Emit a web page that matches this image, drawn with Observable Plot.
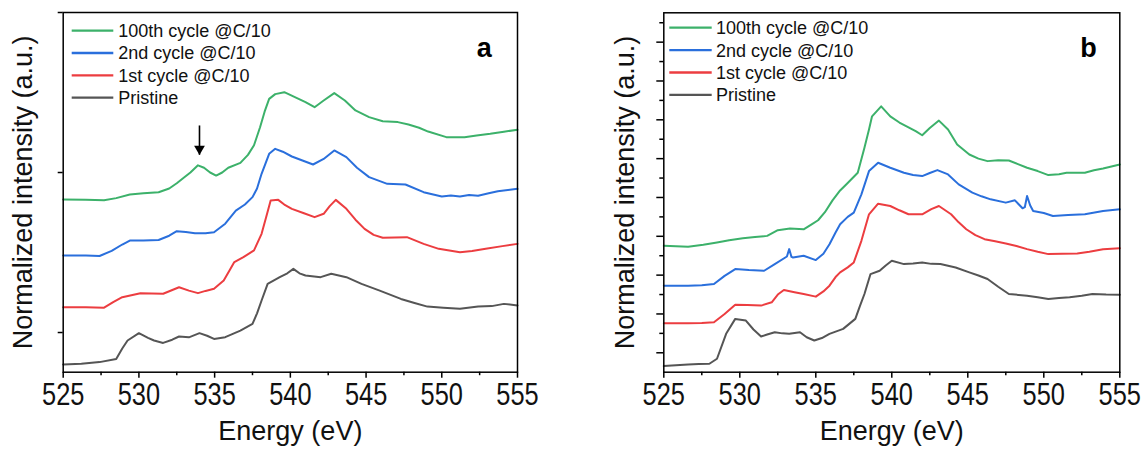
<!DOCTYPE html>
<html><head><meta charset="utf-8">
<script src="https://cdn.jsdelivr.net/npm/d3@7"></script>
<script src="https://cdn.jsdelivr.net/npm/@observablehq/plot@0.6"></script>
<style>
body{margin:0;background:#fff;}
#wrap{position:relative;width:1146px;height:454px;overflow:hidden;font-family:"Liberation Sans",Arial,sans-serif;background:#fff;}
.panel{position:absolute;top:0;}
#legend{position:absolute;left:0;top:0;pointer-events:none;}
</style></head><body><div id="wrap"></div>
<script>
// ---------- data ----------
const seriesNames = ["100th cycle @C/10", "2nd cycle @C/10", "1st cycle @C/10", "Pristine"];
const seriesColors = ["#3cb16a", "#2a6fdc", "#ec3d40", "#555555"];
const xLabel = "Energy (eV)";
const yLabel = "Normalized intensity (a.u.)";
const xTicks = [525, 530, 535, 540, 545, 550, 555];
const xMinorTicks = [527.5, 532.5, 537.5, 542.5, 547.5, 552.5];
const yTicksA = [1, 2, 3];
const yTicksB = [1, 2, 3, 4, 5, 6, 7, 8, 9];
const yMinorTicksB = [1.5, 2.5, 3.5, 4.5, 5.5, 6.5, 7.5, 8.5, 9.5];

// Panel a  [energy (eV), normalized intensity (offset, a.u.)]
const cycle100A = [[525,1.831],[526.5,1.829],[527.7,1.826],[528.5,1.84],[529.4,1.862],[530.3,1.87],[531.3,1.877],[532.0,1.9],[532.5,1.933],[533.0,1.97],[533.4,2.0],[533.9,2.045],[534.3,2.03],[534.7,2.0],[535.1,1.981],[535.5,2.0],[535.9,2.03],[536.7,2.06],[537.2,2.11],[537.6,2.17],[538.0,2.283],[538.3,2.38],[538.6,2.46],[539.0,2.49],[539.6,2.502],[540.3,2.471],[541.0,2.44],[541.6,2.408],[542.2,2.45],[542.9,2.496],[543.6,2.45],[544.3,2.388],[545.2,2.346],[546.1,2.32],[547.1,2.315],[547.8,2.30],[548.5,2.28],[549.1,2.256],[550.3,2.221],[551.5,2.221],[552.3,2.232],[553.2,2.242],[554.1,2.255],[555,2.267]];
const cycle2A = [[525,1.481],[526.5,1.481],[527.4,1.478],[528.2,1.51],[528.9,1.55],[529.4,1.575],[530.3,1.575],[531.3,1.578],[532.0,1.605],[532.5,1.633],[533.1,1.628],[533.7,1.62],[534.4,1.62],[534.96,1.627],[535.7,1.68],[536.4,1.762],[537.0,1.8],[537.5,1.846],[537.8,1.9],[538.1,1.992],[538.6,2.117],[539.0,2.148],[539.5,2.13],[540.1,2.1],[540.8,2.075],[541.5,2.05],[542.2,2.085],[542.9,2.138],[543.7,2.096],[544.4,2.03],[545.2,1.971],[546.4,1.929],[547.6,1.925],[548.8,1.877],[550.0,1.85],[550.6,1.856],[551.2,1.850],[551.8,1.86],[552.4,1.855],[553.1,1.87],[553.7,1.883],[555,1.898]];
const cycle1A = [[525,1.158],[526.5,1.158],[527.7,1.155],[528.3,1.19],[528.9,1.221],[530.1,1.246],[531.6,1.242],[532.65,1.283],[533.3,1.262],[533.9,1.246],[534.4,1.26],[534.96,1.273],[535.6,1.325],[536.0,1.39],[536.3,1.44],[536.9,1.471],[537.6,1.513],[538.1,1.617],[538.4,1.72],[538.7,1.825],[539.2,1.829],[539.6,1.8],[540.1,1.773],[540.9,1.745],[541.6,1.721],[542.2,1.742],[542.6,1.79],[543.0,1.829],[543.7,1.773],[544.3,1.705],[544.9,1.648],[545.5,1.61],[546.1,1.592],[547.7,1.596],[548.8,1.554],[549.8,1.523],[551.2,1.502],[552.0,1.51],[552.9,1.523],[554.0,1.54],[555,1.554]];
const pristineA = [[525,0.80],[526.2,0.805],[527.4,0.815],[528.5,0.835],[528.9,0.9],[529.25,0.95],[530.0,0.996],[530.6,0.967],[531.0,0.95],[531.6,0.935],[532.2,0.955],[532.65,0.975],[533.3,0.97],[534.0,0.996],[534.5,0.98],[534.96,0.96],[535.7,0.971],[536.7,1.012],[537.5,1.054],[537.8,1.12],[538.1,1.2],[538.5,1.304],[539.3,1.346],[539.8,1.37],[540.2,1.398],[540.6,1.37],[541.0,1.356],[542.0,1.346],[542.7,1.367],[543.7,1.346],[544.7,1.304],[545.9,1.262],[547.3,1.21],[548.2,1.185],[549.05,1.162],[550.1,1.155],[551.2,1.148],[552.4,1.162],[553.3,1.165],[554.1,1.179],[555,1.169]];

// Panel b
const cycle100B = [[525,3.754],[526.6,3.729],[527.6,3.78],[528.5,3.84],[529.3,3.9],[530.2,3.95],[531.0,3.98],[531.8,4.011],[532.5,4.157],[533.3,4.2],[534.2,4.18],[534.7,4.3],[535.15,4.413],[535.6,4.62],[536.1,4.926],[536.6,5.18],[537.05,5.354],[537.76,5.636],[538.2,6.278],[538.5,6.75],[538.7,7.09],[539.3,7.347],[539.9,7.09],[540.5,6.93],[541.1,6.808],[541.6,6.7],[542.0,6.603],[542.5,6.79],[543.1,6.98],[543.7,6.749],[544.3,6.364],[545.1,6.107],[545.7,6.0],[546.3,5.936],[547.0,5.96],[547.7,5.953],[548.3,5.86],[548.9,5.765],[549.6,5.68],[550.3,5.577],[551.0,5.6],[551.5,5.636],[552.7,5.636],[553.3,5.7],[553.9,5.748],[555,5.85]];
const cycle2B = [[525,2.728],[526.6,2.728],[527.5,2.74],[528.3,2.77],[529.0,2.98],[529.7,3.156],[530.6,3.13],[531.6,3.113],[532.3,3.284],[533.1,3.48],[533.25,3.67],[533.4,3.47],[533.5,3.455],[534.2,3.498],[535.0,3.387],[535.5,3.55],[535.9,3.797],[536.3,4.1],[536.6,4.31],[537.1,4.5],[537.5,4.61],[538.0,5.08],[538.5,5.68],[539.1,5.893],[539.9,5.765],[540.8,5.636],[541.4,5.58],[542.0,5.551],[542.5,5.63],[543.0,5.705],[543.7,5.594],[544.4,5.337],[545.3,5.123],[545.9,5.03],[546.5,4.952],[547.5,4.867],[548.1,4.926],[548.6,4.721],[548.75,4.75],[548.9,5.038],[549.1,4.8],[549.3,4.653],[550.0,4.6],[550.6,4.524],[551.6,4.55],[552.7,4.567],[553.9,4.653],[555,4.695]];
const cycle1B = [[525,1.761],[526.6,1.761],[527.5,1.77],[528.3,1.787],[529.0,2.0],[529.7,2.24],[530.5,2.23],[531.4,2.215],[532.1,2.3],[532.5,2.5],[532.9,2.617],[533.6,2.56],[534.2,2.514],[535.0,2.446],[535.5,2.58],[535.9,2.728],[536.3,2.95],[536.6,3.07],[537.1,3.2],[537.5,3.327],[538.0,3.883],[538.5,4.567],[539.1,4.84],[539.9,4.781],[540.5,4.67],[541.1,4.567],[542.0,4.567],[542.6,4.7],[543.1,4.781],[543.9,4.567],[544.4,4.36],[544.9,4.182],[545.5,4.03],[546.1,3.926],[546.8,3.87],[547.5,3.814],[548.2,3.75],[548.9,3.669],[549.6,3.6],[550.3,3.541],[551.2,3.55],[552.2,3.558],[553.0,3.6],[553.9,3.669],[555,3.695]];
const pristineB = [[525,0.658],[525.8,0.68],[526.6,0.70],[527.3,0.71],[528.0,0.718],[528.5,0.846],[529.1,1.488],[529.7,1.873],[530.4,1.83],[530.9,1.6],[531.4,1.419],[531.8,1.47],[532.3,1.53],[532.8,1.5],[533.25,1.488],[533.96,1.53],[534.4,1.4],[534.9,1.317],[535.4,1.38],[535.9,1.488],[536.8,1.616],[537.6,1.873],[537.9,2.2],[538.2,2.514],[538.6,3.027],[539.2,3.113],[539.6,3.25],[540.0,3.37],[540.8,3.284],[541.4,3.3],[542.0,3.327],[542.6,3.29],[543.2,3.284],[544.2,3.198],[545.1,3.07],[545.7,2.99],[546.3,2.899],[547.0,2.7],[547.7,2.514],[548.9,2.471],[549.6,2.43],[550.3,2.386],[551.0,2.41],[551.7,2.429],[552.5,2.47],[553.2,2.514],[554.1,2.5],[555,2.497]];

// annotations
const arrowA = [{energy: 534.0, top: 2.294, tip: 2.111}];
const letterA = [{label: "a", energy: 552.8, intensity: 2.775}];
const letterB = [{label: "b", energy: 552.94, intensity: 8.84}];

// ---------- build ----------
function toRows(list) {
  const rows = [];
  list.forEach((pts, i) => pts.forEach(([e, v]) => rows.push({energy: e, intensity: v, series: seriesNames[i]})));
  return rows;
}

const FONT = '"Liberation Sans", Arial, sans-serif';

function makePanel(opt) {
  const rows = toRows(opt.series);
  const marks = [
    Plot.line(rows, {x: "energy", y: "intensity", z: "series", stroke: "series", strokeWidth: 2, curve: "linear"}),
    Plot.frame({stroke: "#000", strokeWidth: 1.5}),
    Plot.axisX({ticks: xTicks, tickSize: 6, tickPadding: 5.6, fontSize: 25.4, label: null, stroke: "#000", strokeWidth: 1.5, fill: "#111", tickFormat: d => String(d)}),
    Plot.axisX({ticks: xMinorTicks, tickSize: 3.5, tickFormat: () => "", label: null, stroke: "#000", strokeWidth: 1.5}),
    Plot.axisY({ticks: opt.yTicks, tickSize: opt.yTickSize, tickFormat: () => "", label: null, stroke: "#000", strokeWidth: 1.5}),
    Plot.text([xLabel], {frameAnchor: "bottom", dy: 67.7, fontSize: 27, fill: "#111", textAnchor: "middle"}),
    Plot.text([yLabel], {frameAnchor: "left", rotate: -90, dx: opt.yLabelDx, fontSize: 27, fill: "#111", textAnchor: "middle", lineAnchor: "middle"}),
    Plot.text(opt.letter, {x: "energy", y: "intensity", text: "label", fontSize: 27, fontWeight: "bold", fill: "#000"})
  ];
  if (opt.yMinor) marks.push(Plot.axisY({ticks: opt.yMinor, tickSize: 4, tickFormat: () => "", label: null, stroke: "#000", strokeWidth: 1.5}));
  if (opt.arrow) {
    marks.push(Plot.link(opt.arrow, {x1: "energy", x2: "energy", y1: "top", y2: "tip", stroke: "#000", strokeWidth: 1.6}));
    marks.push(Plot.dot(opt.arrow, {x: "energy", y: "tip", symbol: "triangle", rotate: 180, r: 4, fill: "#000", stroke: "none", dy: -6}));
  }
  const svg = Plot.plot({
    width: 573, height: 454,
    marginLeft: opt.ml, marginRight: opt.mr, marginTop: opt.mt, marginBottom: 82.3,
    style: {fontFamily: FONT, background: "white", overflow: "visible"},
    x: {domain: [525, 555], label: null},
    y: {domain: opt.yDomain, label: null},
    color: {domain: seriesNames, range: seriesColors},
    marks
  });
  // slightly taller tick digits, as in the reference
  svg.querySelectorAll('g[aria-label="x-axis tick label"] text').forEach(t => {
    t.setAttribute("transform", (t.getAttribute("transform") || "") + " scale(1,1.2)");
  });
  return svg;
}

const wrap = document.getElementById("wrap");
const pa = makePanel({series: [cycle100A, cycle2A, cycle1A, pristineA], yDomain: [0.752, 3], yTicks: yTicksA, yTickSize: 5,
  ml: 62.7, mr: 56, mt: 12, yLabelDx: -39.7, letter: letterA, arrow: arrowA});
const pb = makePanel({series: [cycle100B, cycle2B, cycle1B, pristineB], yDomain: [0.5, 9.756], yTicks: yTicksB, yMinor: yMinorTicksB, yTickSize: 7,
  ml: 90.3, mr: 26.7, mt: 12.3, yLabelDx: -38.3, letter: letterB});
const da = document.createElement("div"); da.className = "panel"; da.style.left = "0px"; da.appendChild(pa); wrap.appendChild(da);
const db = document.createElement("div"); db.className = "panel"; db.style.left = "573px"; db.appendChild(pb); wrap.appendChild(db);

// legends (overlay)
const legend = d3.select(wrap).append("svg").attr("id", "legend").attr("width", 1146).attr("height", 454);
const legendSpecs = [{x0: 71.7, x1: 113.3, tx: 118.3, y0: 30.7, step: 22.3}, {x0: 669.3, x1: 711.7, tx: 716, y0: 27.7, step: 22.4}];
legendSpecs.forEach(s => {
  const g = legend.append("g");
  seriesNames.forEach((name, i) => {
    const y = s.y0 + i * s.step;
    g.append("line").attr("x1", s.x0).attr("x2", s.x1).attr("y1", y).attr("y2", y).attr("stroke", seriesColors[i]).attr("stroke-width", 2.3);
    g.append("text").attr("x", s.tx).attr("y", y + 0.358 * 18).attr("font-size", 18).attr("font-family", FONT).attr("fill", "#111").text(name);
  });
});
</script></body></html>
